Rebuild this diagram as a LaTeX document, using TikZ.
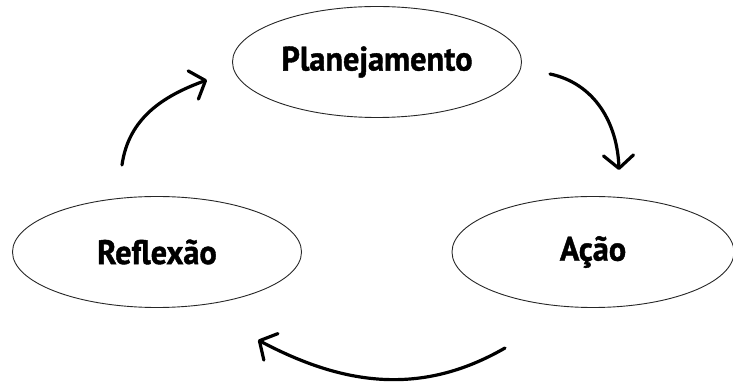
\documentclass[tikz,border=0pt]{standalone}
\usepackage{fontspec}
\newfontfamily\handfont{PT Sans}[FakeStretch=0.95,FakeBold=1.2]
\usetikzlibrary{shapes.geometric,arrows.meta}
\begin{document}
\begin{tikzpicture}[x=1pt,y=1pt,
  stage/.style={ellipse,draw=black!85,line width=0.9pt,inner sep=0pt,
     minimum width=289pt,minimum height=111pt,
     font=\handfont\bfseries\fontsize{34}{38}\selectfont},
  cycarrow/.style={line width=3.2pt,line cap=round,
     -{Straight Barb[length=13pt,width=30pt,line width=3.2pt,round]}}]
\useasboundingbox (0,0) rectangle (733,385);
\node[stage] (plan) at (377,323) {Planejamento};
\node[stage] (refl) at (157,133) {Reflexão};
\node[stage,minimum width=282pt] (acao) at (593,133) {Ação};
\coordinate (a1s) at (122,220);
\coordinate (a1e) at (207,305);
\coordinate (a2s) at (550,311);
\coordinate (a2e) at (619,215);
\coordinate (a3s) at (505,37);
\coordinate (a3e) at (258,45);
\draw[cycarrow] (a1s) to[out=82,in=200] (a1e);
\draw[cycarrow] (a2s) to[out=-12,in=92] (a2e);
\draw[cycarrow] (a3s) to[out=210,in=-28] (a3e);
\end{tikzpicture}
\end{document}
